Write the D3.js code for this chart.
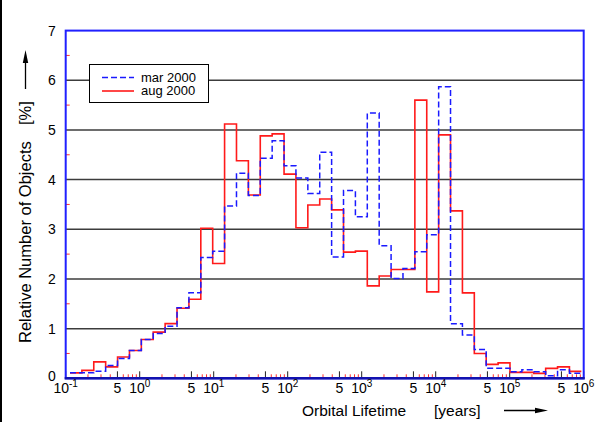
<!DOCTYPE html>
<html lang="en">
<head>
<meta charset="utf-8">
<title>Orbital Lifetime</title>
<script type="text/javascript" src="https://d3js.org/d3.v7.min.js"></script>
<style type="text/css">
body { margin: 0; background: #fff; }
text { font-family: "Liberation Sans", Arial, sans-serif; fill: #000; }
</style>
</head>
<body>
<script>

// bin edges [years], log spaced
var binEdges = [0.1143, 0.1655, 0.2395, 0.3467, 0.5021, 0.7270, 1.052, 1.523, 2.206, 3.194,
  4.624, 6.695, 9.692, 14.03, 20.32, 29.42, 42.59, 61.66, 89.27, 129.2,
  187.1, 270.9, 392.2, 567.8, 822.1, 1190, 1723, 2495, 3612, 5229,
  7568, 10960, 15860, 22970, 33250, 48140, 69700, 100900, 146100, 211500,
  306200, 443300, 641800, 929300];

// relative number of objects [%] per bin
var mar2000 = [0.11, 0.11, 0.14, 0.26, 0.40, 0.56, 0.78, 0.90, 1.05, 1.42,
  1.72, 2.43, 2.56, 3.47, 4.13, 3.68, 4.43, 4.78, 4.28, 4.03,
  3.72, 4.55, 2.44, 3.78, 3.25, 5.34, 2.67, 2.01, 2.21, 2.55,
  2.89, 5.87, 1.10, 0.87, 0.58, 0.20, 0.20, 0.13, 0.17, 0.13,
  0.05, 0.17, 0.10];
var aug2000 = [0.11, 0.16, 0.33, 0.23, 0.43, 0.56, 0.78, 0.93, 1.10, 1.41,
  1.59, 3.02, 2.31, 5.12, 4.38, 3.69, 4.88, 4.92, 4.11, 3.03,
  3.49, 3.61, 3.39, 2.54, 2.56, 1.86, 2.06, 2.19, 2.19, 5.60,
  1.74, 4.90, 3.37, 1.72, 0.50, 0.28, 0.31, 0.12, 0.12, 0.10,
  0.20, 0.23, 0.14];

var seriesNames = ["mar 2000", "aug 2000"];
var yTicks = [0, 1, 2, 3, 4, 5, 6, 7];
var decadeExps = [-1, 0, 1, 2, 3, 4, 5, 6];
var fiveTicks = [0.5, 5, 50, 500, 5000, 50000, 500000];

var W = 605, H = 422;
var margin = {top: 30.6, right: 21.3, bottom: 43.7, left: 65.7};

var svg = d3.select("body").append("svg")
    .attr("width", W)
    .attr("height", H);

var x = d3.scaleLog()
    .domain([0.1, 1e6])
    .range([margin.left, W - margin.right]);

var y = d3.scaleLinear()
    .domain([0, 7])
    .range([H - margin.bottom, margin.top]);

// frame line at the left edge of the picture
svg.append("line")
    .attr("x1", 1).attr("x2", 1)
    .attr("y1", 0).attr("y2", H)
    .attr("stroke", "#000").attr("stroke-width", 2);

// horizontal grid
svg.append("g")
    .selectAll("line")
    .data(yTicks.filter(function(d) { return d > 0 && d < 7; }))
    .enter().append("line")
    .attr("x1", x(0.1)).attr("x2", x(1e6))
    .attr("y1", function(d) { return y(d); })
    .attr("y2", function(d) { return y(d); })
    .attr("stroke", "#3c3c3c")
    .attr("stroke-width", 1.5);

// red minor y ticks
svg.append("g")
    .selectAll("line")
    .data(y.ticks(14).filter(function(d) { return d % 1 !== 0; }))
    .enter().append("line")
    .attr("x1", x(0.1)).attr("x2", x(0.1) + 4)
    .attr("y1", function(d) { return y(d); })
    .attr("y2", function(d) { return y(d); })
    .attr("stroke", "#ff3030")
    .attr("stroke-width", 1);

// x ticks: 1 and 5 black and long, others red and short
function mantissa(d) {
  return Math.round(d / Math.pow(10, Math.floor(Math.log10(d) + 1e-9)));
}
svg.append("g")
    .selectAll("line")
    .data(x.ticks())
    .enter().append("line")
    .attr("x1", function(d) { return x(d); })
    .attr("x2", function(d) { return x(d); })
    .attr("y1", y(0))
    .attr("y2", function(d) {
      var m = mantissa(d);
      return y(0) - ((m === 1 || m === 5) ? 7 : 4);
    })
    .attr("stroke", function(d) {
      var m = mantissa(d);
      return (m === 1 || m === 5) ? "#222" : "#ff3030";
    })
    .attr("stroke-width", 1);

// histogram step lines
function stepPoints(vals) {
  var pts = [];
  vals.forEach(function(v, i) {
    pts.push([x(binEdges[i]), y(v)]);
    pts.push([x(binEdges[i + 1]), y(v)]);
  });
  return pts;
}
var line = d3.line();

svg.append("path")
    .attr("d", line(stepPoints(aug2000)))
    .attr("fill", "none")
    .attr("stroke", "#ff1a1a")
    .attr("stroke-width", 1.6);

svg.append("path")
    .attr("d", line(stepPoints(mar2000)))
    .attr("fill", "none")
    .attr("stroke", "#1a1aff")
    .attr("stroke-width", 1.5)
    .attr("stroke-dasharray", "6,3");

// plot frame
svg.append("rect")
    .attr("x", x(0.1)).attr("y", y(7))
    .attr("width", x(1e6) - x(0.1))
    .attr("height", y(0) - y(7))
    .attr("fill", "none")
    .attr("stroke", "#2020ff")
    .attr("stroke-width", 2);
svg.append("line")
    .attr("x1", x(0.1) - 1).attr("x2", x(1e6) + 1)
    .attr("y1", y(0)).attr("y2", y(0))
    .attr("stroke", "#1212b0")
    .attr("stroke-width", 2.5);

// y tick labels
svg.append("g")
    .selectAll("text")
    .data(yTicks)
    .enter().append("text")
    .attr("x", x(0.1) - 10)
    .attr("y", function(d) { return y(d) - (d === 0 ? 2 : 0); })
    .attr("dy", "0.36em")
    .attr("text-anchor", "end")
    .style("font-size", "14px")
    .text(function(d) { return d; });

// x tick labels
var decLabels = svg.append("g")
    .selectAll("text")
    .data(decadeExps)
    .enter().append("text")
    .attr("x", function(d) { return x(Math.pow(10, d)); })
    .attr("y", 393)
    .attr("text-anchor", "middle")
    .style("font-size", "14px");
decLabels.append("tspan").text("10");
decLabels.append("tspan")
    .attr("dy", -6)
    .style("font-size", "10px")
    .text(function(d) { return d; });

svg.append("g")
    .selectAll("text")
    .data(fiveTicks)
    .enter().append("text")
    .attr("x", function(d) { return x(d); })
    .attr("y", 393)
    .attr("text-anchor", "middle")
    .style("font-size", "14px")
    .text("5");

// axis titles
svg.append("text")
    .attr("x", 302).attr("y", 416)
    .style("font-size", "15.5px")
    .text("Orbital Lifetime");
svg.append("text")
    .attr("x", 434).attr("y", 416)
    .style("font-size", "15.5px")
    .text("[years]");
svg.append("line")
    .attr("x1", 504).attr("x2", 538)
    .attr("y1", 410.5).attr("y2", 410.5)
    .attr("stroke", "#000").attr("stroke-width", 1.3);
svg.append("path")
    .attr("d", "M535,407.8 L548,410.5 L535,413.2 Z")
    .attr("fill", "#000");

svg.append("text")
    .attr("transform", "translate(31,343) rotate(-90)")
    .style("font-size", "16.5px")
    .text("Relative Number of Objects");
svg.append("text")
    .attr("transform", "translate(31,125) rotate(-90)")
    .style("font-size", "16.5px")
    .text("[%]");
svg.append("line")
    .attr("x1", 25.5).attr("x2", 25.5)
    .attr("y1", 89).attr("y2", 60)
    .attr("stroke", "#000").attr("stroke-width", 1.3);
svg.append("path")
    .attr("d", "M22.8,63 L25.5,50 L28.2,63 Z")
    .attr("fill", "#000");

// legend
var leg = svg.append("g");
leg.append("rect")
    .attr("x", 89.5).attr("y", 64.5)
    .attr("width", 119).attr("height", 38)
    .attr("fill", "#fff")
    .attr("stroke", "#000")
    .attr("stroke-width", 1);
leg.append("line")
    .attr("x1", 102).attr("x2", 134)
    .attr("y1", 77.5).attr("y2", 77.5)
    .attr("stroke", "#1a1aff").attr("stroke-width", 1.5)
    .attr("stroke-dasharray", "6,3");
leg.append("line")
    .attr("x1", 102).attr("x2", 134)
    .attr("y1", 91).attr("y2", 91)
    .attr("stroke", "#ff1a1a").attr("stroke-width", 1.6);
leg.selectAll("text")
    .data(seriesNames)
    .enter().append("text")
    .attr("x", 141)
    .attr("y", function(d, i) { return 81.5 + i * 13.5; })
    .style("font-size", "13px")
    .text(function(d) { return d; });

</script>
</body>
</html>
